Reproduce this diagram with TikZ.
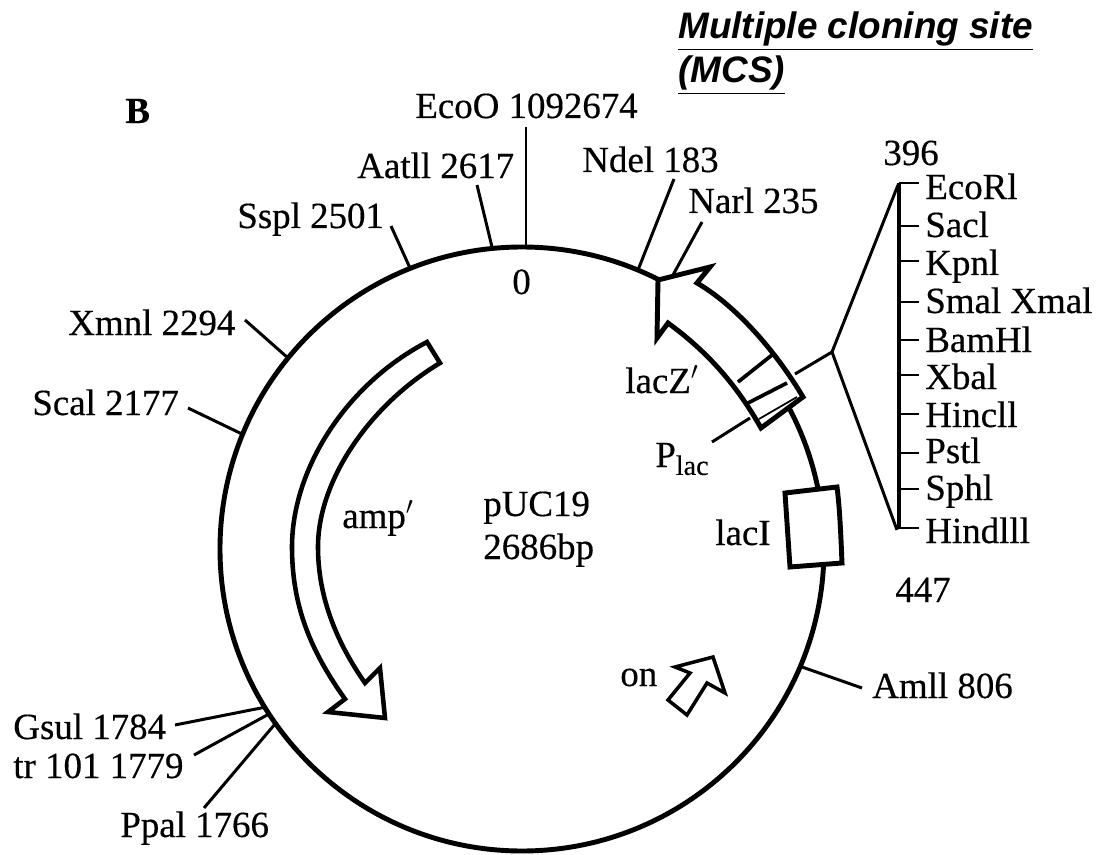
\documentclass[tikz,border=0pt]{standalone}
\usepackage{fontspec}
\setmainfont{Liberation Serif}[FakeBold=0.4]
\newfontfamily\mcsfont{Liberation Sans}
\usetikzlibrary{positioning,calc}

\begin{document}
\begin{tikzpicture}[
    x=0.02cm, y=-0.02cm,
    tag/.style={inner sep=0pt, anchor=base west, font=\fontsize{21}{25}\selectfont},
    mcs/.style={inner sep=0pt, anchor=west, font=\fontsize{21}{25}\selectfont\mcsfont\bfseries\itshape},
    tick/.style={line width=1.7pt},
    ringline/.style={line width=2.8pt},
    gene/.style={line width=2.8pt, fill=white, line join=miter}
]
\useasboundingbox (0,0) rectangle (1103,855);

% Plasmid ring
\coordinate (ctr) at (522,549);
\draw[ringline] (ctr) circle [radius=302];

% Restriction sites round the ring
\foreach \nm/\txt/\lx/\ly/\ax/\ay/\bx/\by in {
    eco/EcoO 1092674/415/118/526/127/526/247,
    aat/Aatll 2617/357/178/477/185/492/247,
    nde/Ndel 183/582/172/674/179/638/270,
    nar/Narl 235/688/213/702/222/673/275,
    ssp/Sspl 2501/237/228/391/226/410/268,
    xmn/Xmnl 2294/68/335/245/320/288/358,
    sca/Scal 2177/32/415/188/408/242/434,
    gsu/Gsul 1784/13/739/175/725/266/707,
    trx/tr 101 1779/13/778/194/755/269/714,
    ppa/Ppal 1766/120/837/204/808/275/724,
    aml/Amll 806/872/698/862/688/802/667
}{
    \node[tag] (\nm) at (\lx,\ly) {\txt};
    \coordinate (\nm a) at (\ax,\ay);
    \coordinate (\nm b) at (\bx,\by);
    \draw[tick] (\nm a) -- (\nm b);
}

% Plain labels
\node[tag, font=\fontsize{21}{25}\selectfont\bfseries] (plate) at (125,123) {B};
\node[tag] (zero) at (512,294) {0};
\node[tag] (n396) at (883,165) {396};
\node[tag] (n447) at (895,602) {447};
\node[tag] (laci) at (715,545) {lacI};
\node[tag] (lacz) at (625,393) {lacZ$'$};
\node[tag] (plac) at (655,467) {P\raisebox{-4.5pt}{\fontsize{16}{18}\selectfont lac}};
\node[tag] (ori) at (620,686) {on};
\node[tag] (amp) at (342,528) {amp$'$};
\node[tag] (puc) at (483,516) {pUC19};
\node[tag] (size) at (483,559) {2686bp};

% Title
\node[mcs] (title) at (678,31) {\underline{Multiple cloning site}};
\node[mcs] (titleb) at (678,75) {\underline{(MCS)}};

% amp arrow
\draw[gene, line width=2.6pt] (427,342) .. controls (345,385) and (292,470) .. (292,547)
    .. controls (292,605) and (310,650) .. (345,699)
    -- (328,712) -- (385,718) -- (380,668) -- (365,683)
    .. controls (335,640) and (318,595) .. (318,547)
    .. controls (318,480) and (370,405) .. (440,363) -- cycle;

% lacZ arrow
\draw[gene] (697,283) .. controls (735,305) and (775,350) .. (803,397)
    -- (761,428)
    .. controls (735,382) and (705,350) .. (668,323)
    -- (657,338) -- (658,280) -- (710,267) -- cycle;
\coordinate (cuta) at (738,382);
\coordinate (cutb) at (772,355);
\coordinate (cutc) at (748,403);
\coordinate (cutd) at (787,383);
\coordinate (cute) at (759,419);
\coordinate (cutf) at (797,397);
\draw[line width=2.1pt] (cuta) -- (cutb);
\draw[line width=2.1pt] (cutc) -- (cutd);
\draw[line width=1pt] (cute) -- (cutf);

% lacI box
\draw[gene] (785,493) -- (837,487) .. controls (840,510) and (841,540) .. (842,563) -- (790,567) -- cycle;

% ori arrow
\draw[gene, line width=2pt] (668,700) -- (687,715) -- (707,683) -- (725,693) -- (713,657) -- (675,667) -- (690,673) -- cycle;

% P lac pointer
\coordinate (placa) at (712,442);
\coordinate (placb) at (750,418);
\draw[tick] (placa) -- (placb);

% MCS bracket
\coordinate (fan) at (832,352);
\coordinate (fanc) at (795,374);
\draw[tick] (fan) -- (fanc);
\draw[tick] (fan) -- (898,185);
\draw[tick] (fan) -- (897,530);
\draw[line width=1.9pt] (899,183) -- (899,529);
\foreach \nm/\txt/\ty/\ly in {
    ecor/EcoRl/183/199, sac/Sacl/226/237, kpn/Kpnl/261/275, sma/Smal Xmal/302/313,
    bam/BamHl/340/352, xba/Xbal/375/389, hinc/Hincll/414/427, pst/Pstl/453/463,
    sph/Sphl/489/500, hind/Hindlll/528/543
}{
    \node[tag] (\nm) at (925,\ly) {\txt};
    \coordinate (\nm t) at (899,\ty);
    \draw[tick] (\nm t) -- (919,\ty);
}
\end{tikzpicture}
\end{document}
